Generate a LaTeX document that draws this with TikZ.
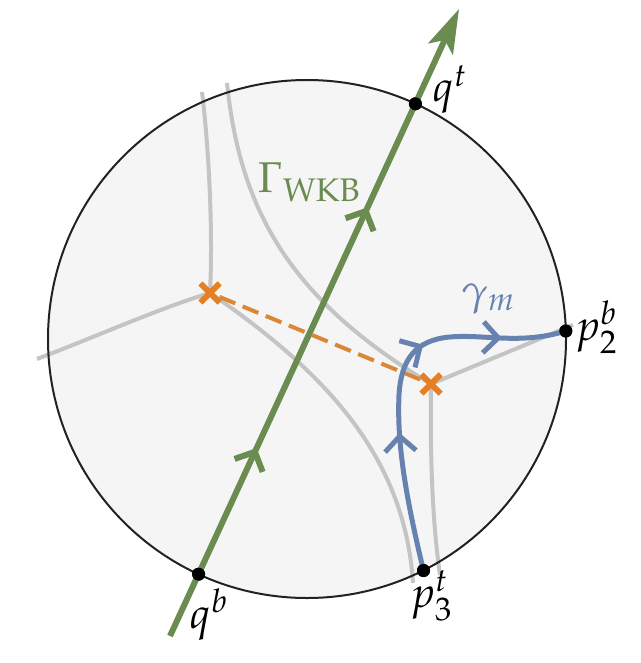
\documentclass[tikz,border=0pt]{standalone}
\usepackage[T1]{fontenc}
\usepackage{mathpazo}
\usetikzlibrary{arrows.meta,decorations.markings,shapes.misc}
\definecolor{wkbgreen}{RGB}{106,140,80}
\definecolor{gmblue}{RGB}{104,130,176}
\definecolor{brorange}{RGB}{230,126,34}
\definecolor{dashorange}{RGB}{218,136,56}
\definecolor{sngray}{RGB}{196,196,196}
\definecolor{diskfill}{RGB}{245,245,245}
\definecolor{diskline}{RGB}{34,34,34}
\tikzset{
  bigtip/.tip={Stealth[length=44pt,width=27pt,inset=10pt]},
  chev/.tip={Straight Barb[length=15pt,width=31pt]},
}
\begin{document}
\begin{tikzpicture}[x=1pt,y=-1pt,
  lab/.style={font=\fontsize{43}{50}\selectfont, inner sep=0pt, anchor=base west},
  sn/.style={sngray, line width=4pt},
  dotpt/.style={circle, fill=black, inner sep=0pt, minimum size=13pt},
  brpt/.style={cross out, draw=brorange, line width=5.5pt, minimum size=13.5pt, inner sep=0pt},
  wkb/.style={wkbgreen, line width=6pt},
  gam/.style={gmblue, line width=5pt},
  cut/.style={dashorange, line width=4pt, dash pattern=on 17pt off 8pt}]
\useasboundingbox (0,0) rectangle (640,663);
\coordinate (O) at (307,339);
\coordinate (gs) at (170,636);
\coordinate (ge) at (459,9);
% disk
\fill[diskfill] (O) circle[radius=259pt];
% branch points
\path (210,293) coordinate (blc);
\path (431,384) coordinate (brc);
% spectral network (gray)
\draw[sn] (blc) .. controls (213,230) and (209,150) .. (202,92);
\draw[sn] (blc) .. controls (160,308) and (100,335) .. (37,359);
\draw[sn] (blc) .. controls (330,375) and (405,460) .. (413,583);
\draw[sn] (brc) .. controls (290,300) and (240,210) .. (227,83);
\draw[sn] (brc) -- (573,325);
\draw[sn] (brc) .. controls (430,450) and (432,520) .. (440,575);
% disk boundary
\draw[diskline, line width=2pt] (O) circle[radius=259pt];
% points on the boundary
\node[dotpt] (qt) at (415.4,103.8) {};
\node[dotpt] (qb) at (198.6,574.2) {};
\node[dotpt] (p2b) at (565.8,331) {};
\node[dotpt] (p3t) at (423.5,570.5) {};
% WKB line
\draw[wkb, -{bigtip}, postaction={decorate},
  decoration={markings,
    mark=at position 207pt with {\arrow{chev}},
    mark=at position 472pt with {\arrow{chev}}}]
  (gs) -- (ge);
% branch cut
\node[brpt] (bl) at (blc) {};
\node[brpt] (br) at (brc) {};
\draw[cut] (bl) -- (br);
% gamma_m
\draw[gam, postaction={decorate},
  decoration={markings,
    mark=at position 140pt with {\arrow{chev}},
    mark=at position 236pt with {\arrow{chev}},
    mark=at position 316pt with {\arrow{chev}}}]
  (p3t.center) .. controls (404,490) and (397,440) .. (399,395)
  .. controls (401,360) and (415,340) .. (450,337)
  .. controls (485,334) and (520,345) .. (p2b.center);
% crosses and dots on top
\node[brpt] at (blc) {};
\node[brpt] at (brc) {};
\node[dotpt] at (qt) {};
\node[dotpt] at (qb) {};
\node[dotpt] at (p2b) {};
\node[dotpt] at (p3t) {};
% labels
\node[lab] (lqt) at (433,102) {$q^t$};
\node[lab, text=wkbgreen] (lgw) at (258,193) {$\Gamma_{\mathrm{WKB}}$};
\node[lab, text=gmblue] (lgm) at (461,304) {$\gamma_m$};
\node[lab] (lp2) at (575,340) {$p_2^b$};
\node[lab] (lqb) at (190,628) {$q^b$};
\node[lab] (lp3) at (410,607) {$p_3^t$};
\end{tikzpicture}
\end{document}
